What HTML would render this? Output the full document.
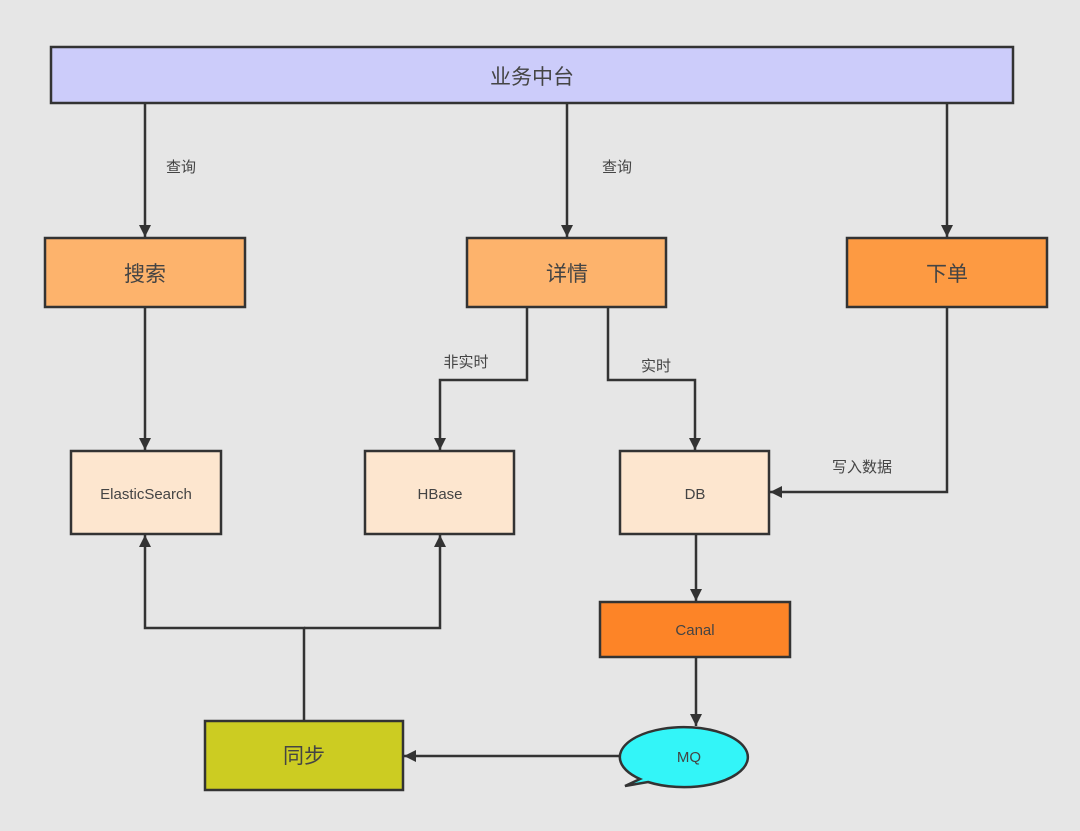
<!DOCTYPE html>
<html><head><meta charset="utf-8"><style>
html,body{margin:0;padding:0;background:#e6e6e6;}
svg{display:block;}
text{font-family:"Liberation Sans","Noto Sans CJK SC",sans-serif;}
</style></head><body>
<svg width="1080" height="831" viewBox="0 0 1080 831" xmlns="http://www.w3.org/2000/svg">
<defs>
<marker id="a" viewBox="0 0 10 10" refX="10" refY="5" markerWidth="12" markerHeight="12" markerUnits="userSpaceOnUse" orient="auto">
<path d="M0,0 L10,5 L0,10 z" fill="#333"/></marker>
</defs>
<rect width="1080" height="831" fill="#e6e6e6"/>
<g stroke="#333" stroke-width="2.5" fill="none">
<path d="M145,104 V237" marker-end="url(#a)"/>
<path d="M567,104 V237" marker-end="url(#a)"/>
<path d="M947,104 V237" marker-end="url(#a)"/>
<path d="M145,308 V450" marker-end="url(#a)"/>
<path d="M527,308 V380 H440 V450" marker-end="url(#a)"/>
<path d="M608,308 V380 H695 V450" marker-end="url(#a)"/>
<path d="M947,308 V492 H770" marker-end="url(#a)"/>
<path d="M696,535 V601" marker-end="url(#a)"/>
<path d="M696,658 V726" marker-end="url(#a)"/>
<path d="M626,756 H404" marker-end="url(#a)"/>
<path d="M304,720 V628 H145 V535" marker-end="url(#a)"/>
<path d="M304,628 H440 V535" marker-end="url(#a)"/>
</g>
<g stroke="#333" stroke-width="2.5">
<rect x="51" y="47" width="962" height="56" fill="#ccccfa"/>
<rect x="45" y="238" width="200" height="69" fill="#fdb36c"/>
<rect x="467" y="238" width="199" height="69" fill="#fdb36c"/>
<rect x="847" y="238" width="200" height="69" fill="#fd9a42"/>
<rect x="71" y="451" width="150" height="83" fill="#fde6cf"/>
<rect x="365" y="451" width="149" height="83" fill="#fde6cf"/>
<rect x="620" y="451" width="149" height="83" fill="#fde6cf"/>
<rect x="600" y="602" width="190" height="55" fill="#fd8427"/>
<rect x="205" y="721" width="198" height="69" fill="#cccc22"/>
<path d="M640,779 L625,786 L648,782 A64,30 0 1 0 640,779 z" fill="#33f5f8"/>
</g>
<g text-anchor="middle" fill="#444">
<text x="532" y="84" font-size="21">业务中台</text>
<text x="145" y="281" font-size="21">搜索</text>
<text x="567" y="281" font-size="21">详情</text>
<text x="947" y="281" font-size="21">下单</text>
<text x="146" y="499" font-size="15">ElasticSearch</text>
<text x="440" y="499" font-size="15">HBase</text>
<text x="695" y="499" font-size="15">DB</text>
<text x="695" y="635" font-size="15">Canal</text>
<text x="689" y="762" font-size="15">MQ</text>
<text x="304" y="763" font-size="21">同步</text>
<text x="181" y="172" font-size="15">查询</text>
<text x="617" y="172" font-size="15">查询</text>
<text x="466" y="367" font-size="15">非实时</text>
<text x="656" y="371" font-size="15">实时</text>
<text x="862" y="472" font-size="15">写入数据</text>
</g>
</svg>
</body></html>
